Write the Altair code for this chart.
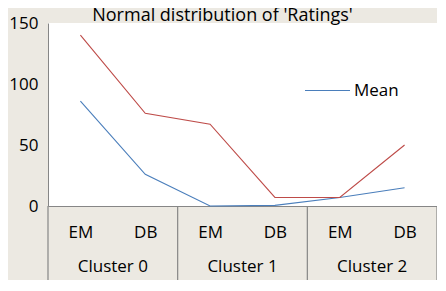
import altair as alt
import pandas as pd

clusters = ["Cluster 0", "Cluster 1", "Cluster 2"]
subs = ["EM", "DB"]
mean_vals = [86, 26, 0, 0.5, 7, 15]
other_vals = [140, 76, 67, 7, 7, 50]
series_names = ["Mean", "Std. Deviation"]
y_ticks = [0, 50, 100, 150]

FONT = "Open Sans"
FS = 17
GRAY = "#868686"
BG = "#ECE9E2"
PL, PT, PB = 40, 15, 74
W, H = 389, 183

rows = []
for name, vals in zip(series_names, [mean_vals, other_vals]):
    for i, v in enumerate(vals):
        rows.append({"pos": i + 0.5, "value": v, "series": name,
                     "cluster": clusters[i // 2], "sub": subs[i % 2]})
df = pd.DataFrame(rows)

clus_df = pd.DataFrame({"center": [2 * k + 1 for k in range(len(clusters))], "name": clusters})
bound_df = pd.DataFrame({"b": [2 * k for k in range(len(clusters) + 1)]})

xscale = alt.Scale(domain=[0, 2 * len(clusters)], nice=False, zero=False)

label_expr = "(datum.value - 2 * floor(datum.value / 2)) < 1 ? '" + subs[0] + "' : '" + subs[1] + "'"

lines = alt.Chart(df).mark_line(strokeWidth=1.1).encode(
    x=alt.X("pos:Q", scale=xscale,
            axis=alt.Axis(values=[i + 0.5 for i in range(6)], labelExpr=label_expr,
                          title=None, ticks=False, grid=False, labelPadding=26,
                          labelBaseline="middle", labelFontSize=FS, labelFont=FONT,
                          labelColor="black", domainColor=GRAY, labelFlush=False)),
    y=alt.Y("value:Q", scale=alt.Scale(domain=[0, 150], nice=False),
            axis=alt.Axis(values=y_ticks, title=None, ticks=False, grid=False,
                          labelPadding=10, labelFontSize=FS, labelFont=FONT,
                          labelColor="black", domainColor=GRAY)),
    color=alt.Color("series:N",
                    scale=alt.Scale(domain=series_names, range=["#4A7EBB", "#BE4B48"]),
                    legend=alt.Legend(values=["Mean"], title=None, orient="none",
                                      legendX=256, legendY=44, symbolType="stroke",
                                      symbolSize=2025, symbolStrokeWidth=1.1,
                                      labelFontSize=FS, labelFont=FONT, labelColor="black",
                                      labelOffset=3)),
    detail="series:N",
)

seps = alt.Chart(bound_df).mark_rule(color=GRAY, strokeWidth=1.2, clip=False).encode(
    x=alt.X("b:Q", scale=xscale),
    y=alt.value(H),
    y2=alt.value(H + PB),
)

clabels = alt.Chart(clus_df).mark_text(fontSize=FS, font=FONT, color="black",
                                       baseline="middle", clip=False).encode(
    x=alt.X("center:Q", scale=xscale),
    y=alt.value(H + 61),
    text="name:N",
)

chart = alt.layer(seps, lines, clabels).properties(
    width=W, height=H,
    title=alt.TitleParams("Normal distribution of 'Ratings'", font=FONT, fontSize=18,
                          fontWeight="normal", color="black", anchor="middle",
                          dx=-20, dy=11, offset=0),
    autosize=alt.AutoSizeParams(type="none"),
    padding={"left": PL, "top": PT, "right": 0, "bottom": PB},
    background=BG,
).configure_view(fill="white", stroke=None)

chart.save("out.html", embed_options={"renderer": "svg", "actions": False})
